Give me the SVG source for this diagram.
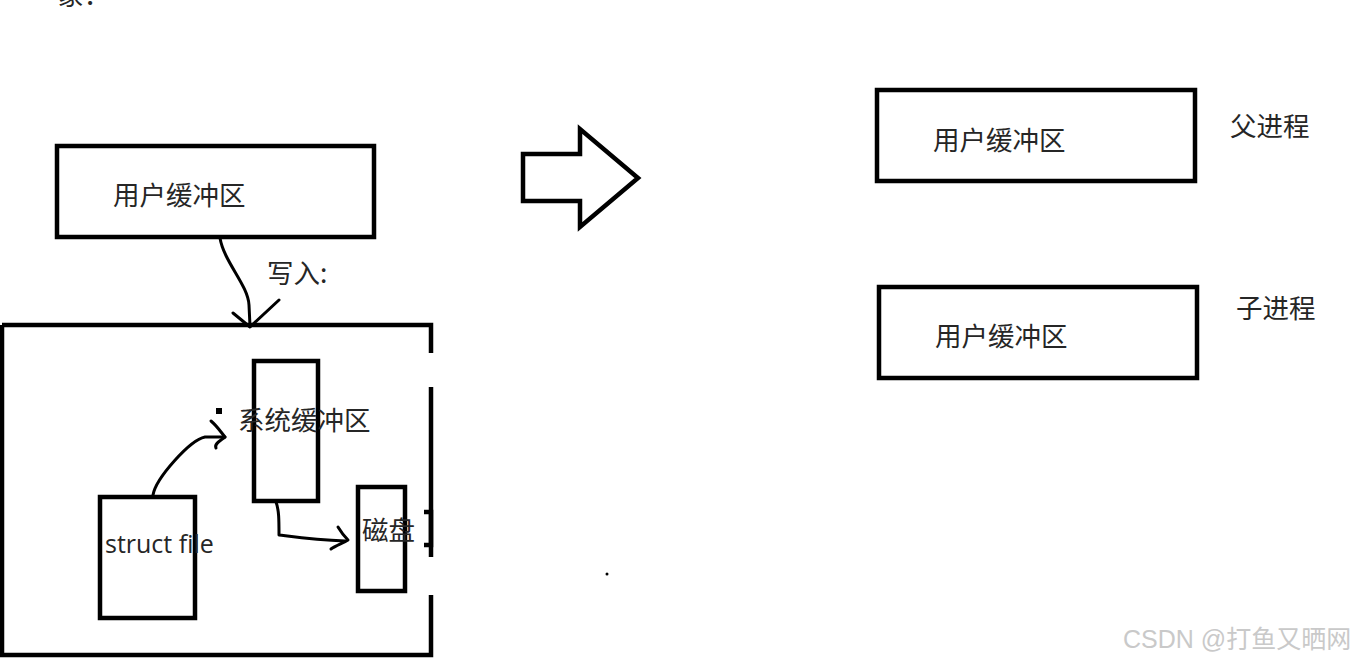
<svg xmlns="http://www.w3.org/2000/svg" width="1361" height="663" viewBox="0 0 1361 663">
<style>
.box{fill:none;stroke:#000;stroke-width:4.5}
.ln{fill:none;stroke:#000;stroke-width:3;stroke-linecap:round;stroke-linejoin:round}
.cn{font-family:"Noto Sans CJK SC","Noto Sans",sans-serif;font-size:26.5px;fill:#262626}
.en{font-family:"Open Sans","Noto Sans",sans-serif;font-size:25px;fill:#262626}
.wm{font-family:"Liberation Sans","Noto Sans CJK SC",sans-serif;font-size:25px;fill:#c9c9c9}
</style>
<rect width="1361" height="663" fill="#fff"/>
<text class="cn" x="57" y="5">象：</text>

<g id="user-buffer-left">
<rect class="box" x="57" y="146" width="317" height="91"/>
<text class="cn" x="113" y="205">用户缓冲区</text>
</g>

<g id="kernel-area">
<path class="box" d="M2,325 H431 V353"/>
<path class="box" d="M431,387 V557"/>
<path class="box" d="M431,595 V655 H2 V325"/>
<path class="box" d="M424,512 H431 V545 H424"/>
</g>

<g id="system-buffer">
<rect class="box" x="254" y="361" width="64" height="140"/>
<text class="cn" x="238" y="430">系统缓冲区</text>
<rect x="216" y="408" width="6" height="6" fill="#000"/>
</g>

<g id="struct-file">
<rect class="box" x="100" y="497" width="95" height="121"/>
<text class="en" x="105" y="553">struct file</text>
</g>

<g id="disk">
<rect class="box" x="358" y="487" width="47" height="104"/>
<text class="cn" x="362" y="540">磁盘</text>
</g>

<g id="big-arrow">
<path d="M523,154 H580 V129 L638,178 L580,227 V201 H523 Z" fill="#fff" stroke="#000" stroke-width="4.5" stroke-linejoin="miter"/>
</g>

<g id="parent-buffer">
<rect class="box" x="877" y="90" width="318" height="91"/>
<text class="cn" x="933" y="150">用户缓冲区</text>
<text class="cn" x="1230" y="136">父进程</text>
</g>

<g id="child-buffer">
<rect class="box" x="879" y="287" width="318" height="91"/>
<text class="cn" x="935" y="346">用户缓冲区</text>
<text class="cn" x="1236" y="318">子进程</text>
</g>

<g id="connectors">
<path class="ln" d="M220,238 C224,262 248,285 249,305 L250,326"/>
<path class="ln" d="M233,313 L250,327 L279,300"/>
<text class="cn" x="267" y="283">写入:</text>
<path class="ln" d="M153,495 C156,478 190,440 205,437 L225,437"/>
<path class="ln" d="M211,421 C217,426 220,431 225,437 C220,441 214,444 216,448"/>
<path class="ln" d="M276,502 C279,510 279,520 279,535 C295,537 315,540 345,541"/>
<path class="ln" d="M338,527 C341,532 344,536 348,540 C343,543 335,546 331,549"/>
</g>

<circle cx="607" cy="574" r="1.5" fill="#000"/>
<text class="wm" x="1123" y="648">CSDN @打鱼又晒网</text>
</svg>
